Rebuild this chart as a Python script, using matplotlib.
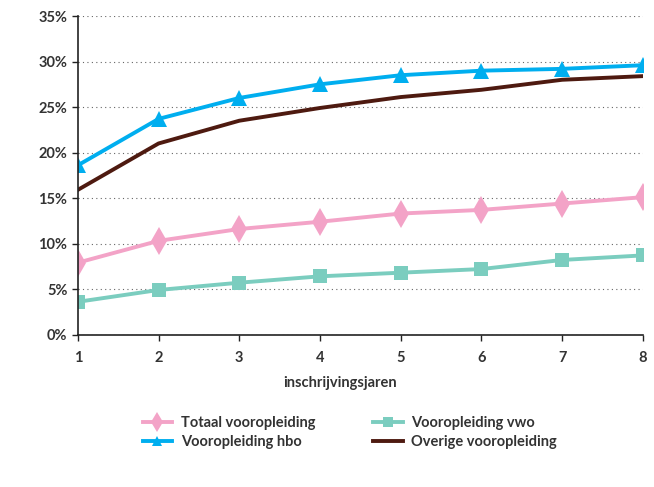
import matplotlib.pyplot as plt
from matplotlib.ticker import FuncFormatter

plt.rcParams['font.family'] = ['Lato', 'DejaVu Sans']

jaren = [1, 2, 3, 4, 5, 6, 7, 8]
totaal = [7.9, 10.3, 11.6, 12.4, 13.3, 13.7, 14.4, 15.1]
vwo = [3.6, 4.9, 5.7, 6.4, 6.8, 7.2, 8.2, 8.7]
hbo = [18.6, 23.7, 26.0, 27.5, 28.5, 29.0, 29.2, 29.6]
overige = [15.9, 21.0, 23.5, 24.9, 26.1, 26.9, 28.0, 28.4]

fig = plt.figure(figsize=(6.54, 4.87), dpi=100)
ax = fig.add_axes([0.119, 0.313, 0.864, 0.654])

ax.plot(jaren, totaal, color='#F3A3C7', lw=2.8, marker='d', ms=14, mew=0,
        label='Totaal vooropleiding')
ax.plot(jaren, hbo, color='#00AEEF', lw=2.8, marker='^', ms=11, mew=0,
        label='Vooropleiding hbo')
ax.plot(jaren, vwo, color='#7BCDBF', lw=2.8, marker='s', ms=10, mew=0,
        label='Vooropleiding vwo')
ax.plot(jaren, overige, color='#4E1A10', lw=2.8, label='Overige vooropleiding')

ax.set_xlim(1, 8)
ax.set_ylim(0, 35)
ax.set_xticks(jaren)
ax.set_yticks(range(0, 36, 5))
ax.yaxis.set_major_formatter(FuncFormatter(lambda v, p: f'{int(v)}%'))
ax.grid(axis='y', color='#666666', linestyle=(0, (1, 3)), lw=0.8)
ax.set_axisbelow(True)
for s in ['top', 'right']:
    ax.spines[s].set_visible(False)
for s in ['left', 'bottom']:
    ax.spines[s].set_color('#222222')
    ax.spines[s].set_linewidth(1.2)
ax.tick_params(axis='both', colors='#222222', labelcolor='#333333', length=4,
               width=1, labelsize=10.5)
ax.tick_params(axis='x', pad=8)
for lab in ax.get_xticklabels() + ax.get_yticklabels():
    lab.set_fontweight('bold')

fig.text(0.52, 0.213, 'inschrijvingsjaren', ha='center', va='center',
         fontsize=10.5, fontweight='bold', color='#333333')

h, l = ax.get_legend_handles_labels()
leg = fig.legend(h, l, ncol=2,
                 loc='center', bbox_to_anchor=(0.535, 0.112), frameon=False,
                 fontsize=10.5, handlelength=2.0, handletextpad=0.6,
                 columnspacing=4.0, labelspacing=0.3, markerscale=0.7)
for t in leg.get_texts():
    t.set_color('#333333')
    t.set_fontweight('bold')

fig.savefig('out.png', dpi=100)
